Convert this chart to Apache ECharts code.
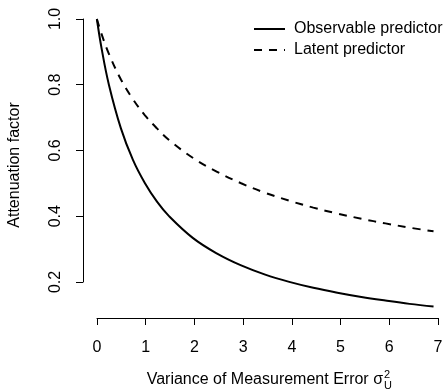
<!DOCTYPE html>
<html>
<head>
<meta charset="utf-8">
<script src="https://cdn.jsdelivr.net/npm/echarts@6/dist/echarts.min.js"></script>
<style>
  html, body { margin: 0; padding: 0; background: #fff; }
  #chart { width: 447px; height: 392px; }
</style>
</head>
<body>
<div id="chart"></div>
<script>
// values
const sigma2 = [0, 0.1, 0.25, 0.5, 0.75, 1, 1.25, 1.5, 2, 2.5, 3, 3.5, 4, 4.5, 5, 5.5, 6, 6.5, 7];
const observable = [1.0, 0.909, 0.80, 0.667, 0.571, 0.50, 0.444, 0.40, 0.333, 0.286, 0.25, 0.222, 0.20, 0.182, 0.167, 0.154, 0.143, 0.133, 0.125];
const latent = [1.0, 0.953, 0.894, 0.816, 0.756, 0.707, 0.667, 0.632, 0.577, 0.535, 0.50, 0.471, 0.447, 0.426, 0.408, 0.392, 0.378, 0.365, 0.354];
const xTicks = [0, 7, 1];
const yTicks = [0.2, 1.0, 0.2];

const font = '"Liberation Sans", Arial, Helvetica, sans-serif';
const chart = echarts.init(document.getElementById('chart'));

const pairs = (ys) => sigma2.map((x, i) => [x, ys[i]]);

chart.setOption({
    animation: false,
    textStyle: { fontFamily: font },
    grid: [
        // data area (R plot region, 4% padding)
        { left: 83.4, top: 7.5, width: 368.2, height: 310.5 },
        // y axis only over tick range
        { left: 83, top: 19, width: 355, height: 263 },
        // x axis only over tick range
        { left: 97, top: 19, width: 341, height: 299 },
    ],
    xAxis: [
        { gridIndex: 0, type: 'value', min: -0.28, max: 7.28, show: false },
        { gridIndex: 1, type: 'value', min: 0, max: 1, show: false },
        {
            gridIndex: 2, type: 'value', min: xTicks[0], max: xTicks[1], interval: xTicks[2],
            axisLine: { lineStyle: { color: '#000', width: 1 } },
            axisTick: { length: 7, lineStyle: { color: '#000' } },
            axisLabel: { color: '#000', fontSize: 16, margin: 22, fontFamily: font, showMaxLabel: true },
            splitLine: { show: false },
        },
    ],
    yAxis: [
        { gridIndex: 0, type: 'value', min: 0.09, max: 1.035, show: false },
        {
            gridIndex: 1, type: 'value', min: yTicks[0], max: yTicks[1], interval: yTicks[2],
            axisLine: { show: true, lineStyle: { color: '#000', width: 1 } },
            axisTick: { show: true, length: 7, lineStyle: { color: '#000' } },
            axisLabel: {
                color: '#000', fontSize: 16, margin: 19, rotate: 90, fontFamily: font,
                formatter: (v) => v.toFixed(1),
            },
            splitLine: { show: false },
        },
        { gridIndex: 2, type: 'value', min: 0, max: 1, show: false },
    ],
    legend: {
        orient: 'vertical',
        left: 248,
        top: 16,
        itemWidth: 31,
        itemHeight: 14,
        itemGap: 5,
        itemStyle: { opacity: 0 },
        textStyle: { color: '#000', fontSize: 16, fontFamily: font, padding: [0, 0, 0, 4] },
        data: ['Observable predictor', 'Latent predictor'],
    },
    series: [
        {
            name: 'Observable predictor',
            type: 'line',
            xAxisIndex: 0, yAxisIndex: 0,
            smooth: 0.4,
            symbol: 'none',
            lineStyle: { color: '#000', width: 2, type: 'solid' },
            itemStyle: { color: '#000' },
            data: pairs(observable),
        },
        {
            name: 'Latent predictor',
            type: 'line',
            xAxisIndex: 0, yAxisIndex: 0,
            smooth: 0.4,
            symbol: 'none',
            lineStyle: { color: '#000', width: 2, type: [8, 7] },
            itemStyle: { color: '#000' },
            data: pairs(latent),
        },
    ],
    graphic: [
        {
            type: 'text', x: 15, y: 165, rotation: Math.PI / 2,
            style: { text: 'Attenuation factor', font: '16px ' + font, fill: '#000', align: 'center', verticalAlign: 'middle' },
        },
        {
            type: 'text', x: 383, y: 380,
            style: { text: 'Variance of Measurement Error σ', font: '16px ' + font, fill: '#000', align: 'right', verticalAlign: 'middle' },
        },
        {
            type: 'text', x: 384, y: 375,
            style: { text: '2', font: '11px ' + font, fill: '#000', align: 'left', verticalAlign: 'middle' },
        },
        {
            type: 'text', x: 384, y: 386,
            style: { text: 'U', font: '11px ' + font, fill: '#000', align: 'left', verticalAlign: 'middle' },
        },
    ],
});
</script>
</body>
</html>
